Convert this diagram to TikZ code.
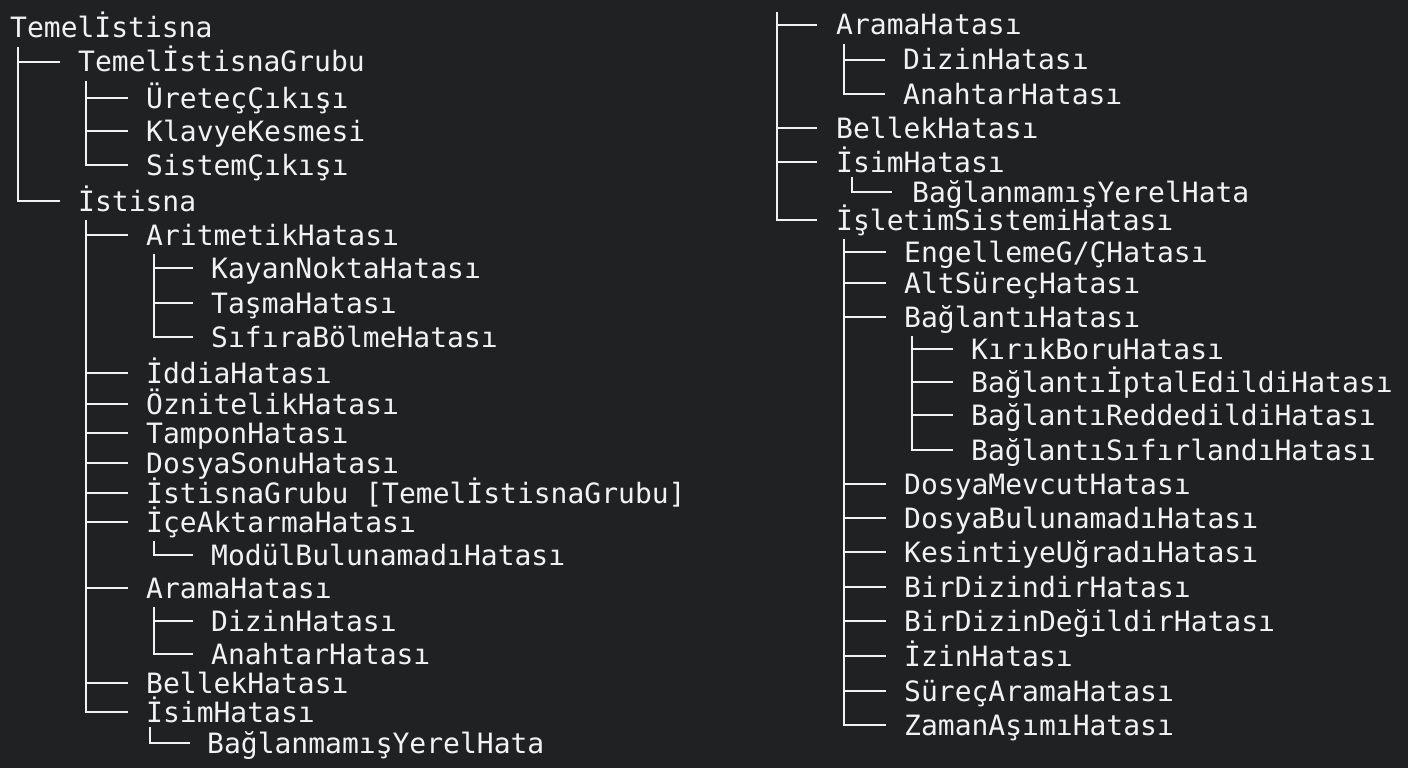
\documentclass[tikz,border=0pt]{standalone}
\usepackage{fontspec}
\newfontfamily\treefont{DejaVu Sans Mono}
\usetikzlibrary{positioning}
\definecolor{bgdark}{RGB}{32,33,35}
\definecolor{termwhite}{RGB}{242,242,242}
\tikzset{
item/.style={anchor=west,inner sep=0pt,text height=24pt,text depth=4pt,
  text=termwhite,font=\treefont\fontsize{28}{30}\selectfont},
branch/.style={draw=termwhite,line width=2pt}
}

\begin{document}
\begin{tikzpicture}[x=1pt,y=-1pt]
\fill[bgdark] (0,0) rectangle (1408,768);
\useasboundingbox (0,0) rectangle (1408,768);
% left column
\node[item] (root) at (10,28) {Temelİstisna};
\node[item] (teg) at (78,62) {TemelİstisnaGrubu};
\node[item] (uc) at (146,98) {ÜreteçÇıkışı};
\node[item] (kk) at (146,131) {KlavyeKesmesi};
\node[item] (sc) at (146,165) {SistemÇıkışı};
\node[item] (ist) at (78,201) {İstisna};
\node[item] (ari) at (146,235) {AritmetikHatası};
\node[item] (kn) at (211,268) {KayanNoktaHatası};
\node[item] (tas) at (211,303) {TaşmaHatası};
\node[item] (sb) at (211,337) {SıfıraBölmeHatası};
\node[item] (idd) at (146,373) {İddiaHatası};
\node[item] (ozn) at (146,404) {ÖznitelikHatası};
\node[item] (tam) at (146,433) {TamponHatası};
\node[item] (ds) at (146,463) {DosyaSonuHatası};
\node[item] (ig) at (146,493) {İstisnaGrubu [TemelİstisnaGrubu]};
\node[item] (ica) at (146,522) {İçeAktarmaHatası};
\node[item] (mb) at (211,555) {ModülBulunamadıHatası};
\node[item] (ara) at (146,588) {AramaHatası};
\node[item] (diz) at (211,621) {DizinHatası};
\node[item] (ana) at (211,654) {AnahtarHatası};
\node[item] (bel) at (146,683) {BellekHatası};
\node[item] (isim) at (146,712) {İsimHatası};
\node[item] (byh) at (207,743) {BağlanmamışYerelHata};
% right column
\coordinate (top) at (777,12);
\node[item] (ara2) at (836,25) {AramaHatası};
\node[item] (diz2) at (903,60) {DizinHatası};
\node[item] (ana2) at (903,94) {AnahtarHatası};
\node[item] (bel2) at (836,128) {BellekHatası};
\node[item] (isim2) at (836,162) {İsimHatası};
\node[item] (byh2) at (912,192) {BağlanmamışYerelHata};
\node[item] (isl) at (836,220) {İşletimSistemiHatası};
\node[item] (eng) at (904,252) {EngellemeG/ÇHatası};
\node[item] (alt) at (904,283) {AltSüreçHatası};
\node[item] (bag) at (904,317) {BağlantıHatası};
\node[item] (kb) at (971,349) {KırıkBoruHatası};
\node[item] (bip) at (971,382) {BağlantıİptalEdildiHatası};
\node[item] (brd) at (971,415) {BağlantıReddedildiHatası};
\node[item] (bsf) at (971,450) {BağlantıSıfırlandıHatası};
\node[item] (dm) at (904,484) {DosyaMevcutHatası};
\node[item] (db) at (904,518) {DosyaBulunamadıHatası};
\node[item] (kes) at (904,552) {KesintiyeUğradıHatası};
\node[item] (bdh) at (904,587) {BirDizindirHatası};
\node[item] (bdd) at (904,621) {BirDizinDeğildirHatası};
\node[item] (izn) at (904,656) {İzinHatası};
\node[item] (sa) at (904,691) {SüreçAramaHatası};
\node[item] (za) at (904,725) {ZamanAşımıHatası};
% branches
\foreach \p/\c in {root/teg,root/ist,teg/uc,teg/kk,teg/sc,
  ist/ari,ist/idd,ist/ozn,ist/tam,ist/ds,ist/ig,ist/ica,ist/ara,ist/bel,ist/isim,
  ari/kn,ari/tas,ari/sb,ica/mb,ara/diz,ara/ana,
  ara2/diz2,ara2/ana2,isl/eng,isl/alt,isl/bag,isl/dm,isl/db,isl/kes,
  isl/bdh,isl/bdd,isl/izn,isl/sa,isl/za,bag/kb,bag/bip,bag/brd,bag/bsf}
  \draw[branch] ([xshift=8pt,yshift=-5pt]\p.south west) |- ([xshift=-18pt]\c.west);
\draw[branch] ([xshift=4pt,yshift=-1pt]isim.south west) |- ([xshift=-17pt]byh.west);
\draw[branch] ([xshift=16pt,yshift=-1pt]isim2.south west) |- ([xshift=-20pt]byh2.west);
\foreach \c in {ara2,bel2,isim2,isl}
  \draw[branch] (top) |- ([xshift=-19pt]\c.west);
\end{tikzpicture}
\end{document}
